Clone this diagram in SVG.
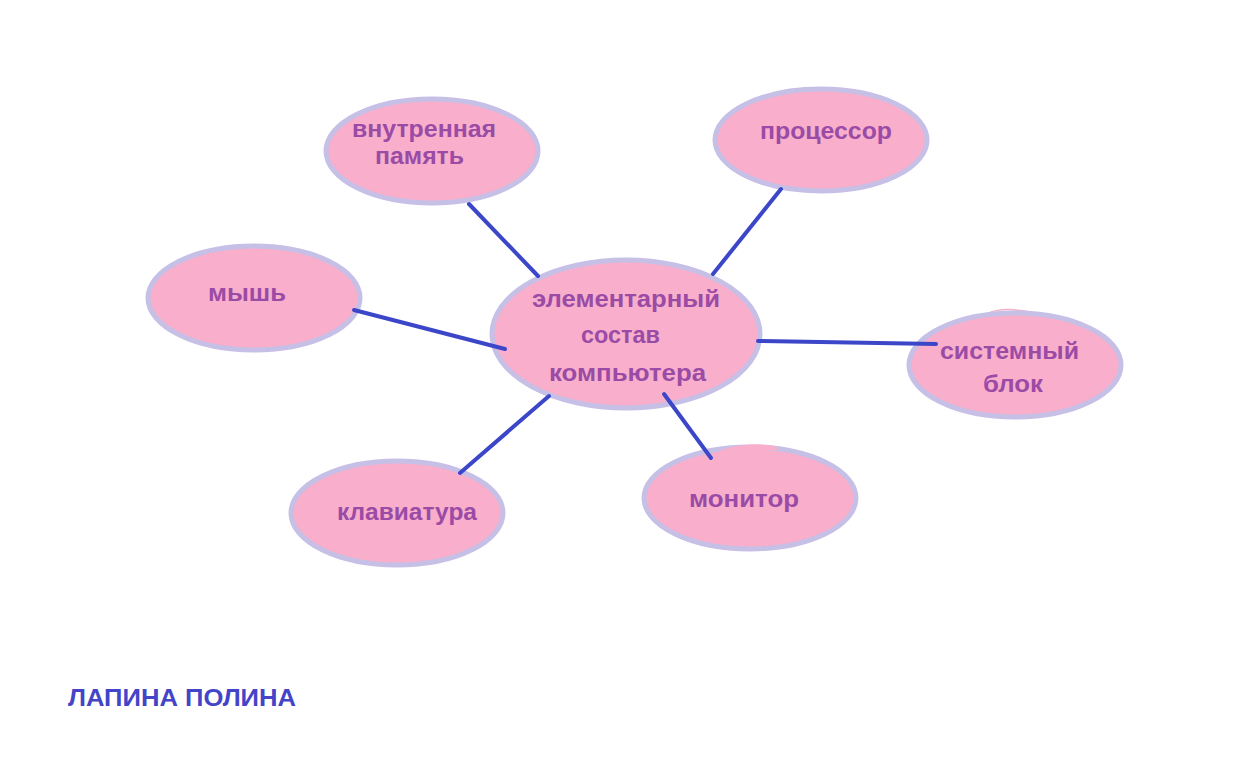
<svg xmlns="http://www.w3.org/2000/svg" width="1260" height="783" viewBox="0 0 1260 783">
<style>
.node ellipse{fill:#F9AECB;stroke:#C6BFE6;stroke-width:5}
.node text{font-family:"Liberation Sans",Arial,sans-serif;font-weight:bold;font-size:24px;fill:#9A4BA6}
#connectors line{stroke:#3C46C8;stroke-width:4;stroke-linecap:round}
.author{font-family:"Liberation Sans",Arial,sans-serif;font-weight:bold;font-size:24px;fill:#4444C8}
</style>
<rect width="1260" height="783" fill="#FFFFFF"/>
<g id="node-memory" class="node">
<ellipse cx="432" cy="151" rx="106" ry="52"/>
<text x="352" y="137" textLength="144" lengthAdjust="spacingAndGlyphs">внутренная</text>
<text x="375" y="164" textLength="89" lengthAdjust="spacingAndGlyphs">память</text>
</g>
<g id="node-cpu" class="node">
<ellipse cx="821" cy="140" rx="106" ry="51"/>
<text x="760" y="139" textLength="132" lengthAdjust="spacingAndGlyphs">процессор</text>
</g>
<g id="node-mouse" class="node">
<ellipse cx="254" cy="298" rx="106" ry="52"/>
<text x="208" y="301" textLength="78" lengthAdjust="spacingAndGlyphs">мышь</text>
</g>
<g id="node-center" class="node">
<ellipse cx="626" cy="334" rx="134" ry="74"/>
<text x="532" y="307" textLength="188" lengthAdjust="spacingAndGlyphs">элементарный</text>
<text x="581" y="343" textLength="79" lengthAdjust="spacingAndGlyphs">состав</text>
<text x="549" y="381" textLength="157" lengthAdjust="spacingAndGlyphs">компьютера</text>
</g>
<g id="node-sysblock" class="node">
<path d="M985 315 Q1000 306 1030 312" fill="none" stroke="#F3B0C8" stroke-width="1.5"/>
<ellipse cx="1015" cy="365" rx="106" ry="52"/>
<text x="940" y="359" textLength="139" lengthAdjust="spacingAndGlyphs">системный</text>
<text x="983" y="392" textLength="60" lengthAdjust="spacingAndGlyphs">блок</text>
</g>
<g id="node-keyboard" class="node">
<ellipse cx="397" cy="513" rx="106" ry="52"/>
<text x="337" y="520" textLength="140" lengthAdjust="spacingAndGlyphs">клавиатура</text>
</g>
<g id="node-monitor" class="node">
<ellipse cx="750" cy="498" rx="106" ry="51"/>
<path d="M718 451 Q745 441 776 446 L778 450 Z" fill="#F9AECB"/>
<text x="689" y="507" textLength="110" lengthAdjust="spacingAndGlyphs">монитор</text>
</g>
<g id="connectors">
<line x1="469" y1="204" x2="538" y2="276"/>
<line x1="781" y1="189" x2="713" y2="274"/>
<line x1="354" y1="310" x2="505" y2="349"/>
<line x1="758" y1="341" x2="936" y2="344"/>
<line x1="549" y1="396" x2="460" y2="473"/>
<line x1="664" y1="394" x2="711" y2="458"/>
</g>
<text class="author" x="68" y="706" textLength="228" lengthAdjust="spacingAndGlyphs">ЛАПИНА ПОЛИНА</text>
</svg>
